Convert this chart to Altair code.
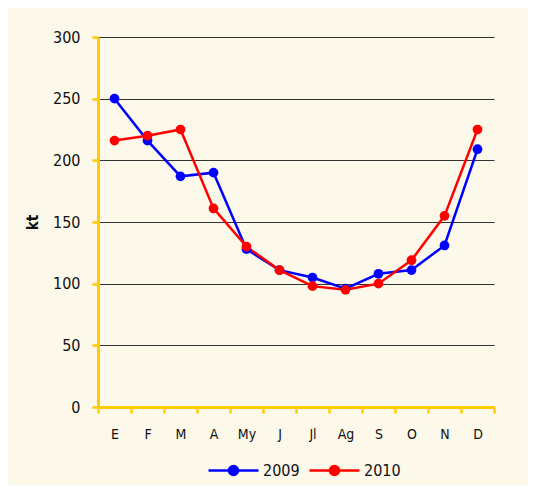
import altair as alt
import pandas as pd

months = ["E", "F", "M", "A", "My", "J", "Jl", "Ag", "S", "O", "N", "D"]
s2009 = [250, 216, 187, 190, 128, 111, 105, 96, 108, 111, 131, 209]
s2010 = [216, 220, 225, 161, 130, 111, 98, 95, 100, 119, 155, 225]
series = ["2009", "2010"]
colors = ["#0000FF", "#FF0000"]
y_ticks = [0, 50, 100, 150, 200, 250, 300]

rows = []
for m, a, b in zip(months, s2009, s2010):
    rows.append({"mes": m, "serie": "2009", "kt": a})
    rows.append({"mes": m, "serie": "2010", "kt": b})
df = pd.DataFrame(rows)

FONT = "'DejaVu Sans Condensed', 'Liberation Sans Narrow', 'Roboto Condensed', 'DejaVu Sans', sans-serif"
GOLD = "#FFCC00"

legend_symbol = "M -1 0 L 1 0 M -0.18 0 A 0.18 0.18 0 1 1 0.18 0 A 0.18 0.18 0 1 1 -0.18 0 Z"

chart = alt.Chart(df).mark_line(
    strokeWidth=2.5,
    point=alt.OverlayMarkDef(filled=True, size=95, opacity=1),
).encode(
    x=alt.X("mes:N", sort=months, title=None,
            scale=alt.Scale(paddingInner=0, paddingOuter=0),
            axis=alt.Axis(labelAngle=0, tickBand="extent", domainColor=GOLD,
                          domainWidth=3, tickColor=GOLD, tickWidth=2.5, tickSize=6,
                          labelPadding=14, labelFont=FONT, labelFontSize=14,
                          labelColor="#111", grid=False)),
    y=alt.Y("kt:Q", title="kt", scale=alt.Scale(domain=[0, 300], nice=False),
            axis=alt.Axis(values=y_ticks, domainColor=GOLD, domainWidth=3,
                          tickColor=GOLD, tickWidth=2.5, tickSize=6,
                          labelPadding=12, labelFont=FONT, labelFontSize=16,
                          labelColor="#111", titleFont=FONT, titleFontSize=15,
                          titleFontWeight="bold", titleColor="#111",
                          titlePadding=12, grid=True, gridColor="#333",
                          gridWidth=1)),
    color=alt.Color("serie:N", scale=alt.Scale(domain=series, range=colors),
                    legend=alt.Legend(title=None, orient="none", direction="horizontal",
                                      legendX=109, legendY=407,
                                      symbolType=legend_symbol, symbolSize=2500,
                                      symbolStrokeWidth=2.5, labelFont=FONT,
                                      labelFontSize=16, labelColor="#111",
                                      labelOffset=3, columnPadding=4)),
).properties(
    width=396, height=370,
    background="#FCF8EA",
    padding={"left": 90, "top": 29, "right": 34, "bottom": 78},
    autosize=alt.AutoSizeParams(type="none"),
).configure_view(stroke=None)

chart.save("out.html", embed_options={"renderer": "svg", "actions": False})
